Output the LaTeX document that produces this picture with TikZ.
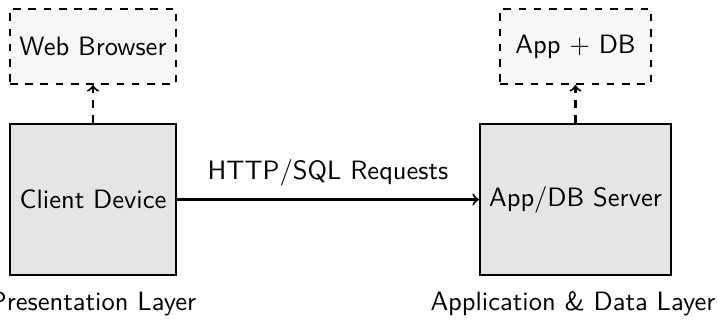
\documentclass[tikz,border=0pt]{standalone}
\usetikzlibrary{arrows}
\renewcommand{\familydefault}{\sfdefault}
\begin{document}
\begin{tikzpicture}[x=0.3937pt,y=-0.3937pt,
  every node/.style={font=\fontsize{10.45pt}{12.5pt}\selectfont},
  hostbox/.style={draw, thick, fill=black!10, minimum height=59.4pt, inner sep=0pt},
  softbox/.style={draw, thick, dashed, fill=black!3, minimum height=29.5pt, inner sep=0pt},
  layerlabel/.style={inner sep=0pt},
  link/.style={thick, ->},
  softlink/.style={thick, dashed, ->}]
  \useasboundingbox (0,0) rectangle (718,326);

  % host machines
  \node[hostbox, minimum width=65.4pt] (client) at (93,199.5) {Client Device};
  \node[hostbox, minimum width=75.2pt] (server) at (575.5,199.5) {App/DB Server};

  % software running on each host
  \node[softbox, minimum width=65.4pt] (browser) at (93,46.5) {Web Browser};
  \node[softbox, minimum width=59.4pt] (appdb) at (575.5,46.5) {App + DB};

  % tier captions
  \node[layerlabel] (pres) at (93,304) {Presentation Layer};
  \node[layerlabel] (appl) at (573,304) {Application \& Data Layer};

  % connections
  \draw[link] (client) -- node[above=1.5pt] {HTTP/SQL Requests} (server);
  \draw[softlink] (client) -- (browser);
  \draw[softlink] (server) -- (appdb);
\end{tikzpicture}
\end{document}
